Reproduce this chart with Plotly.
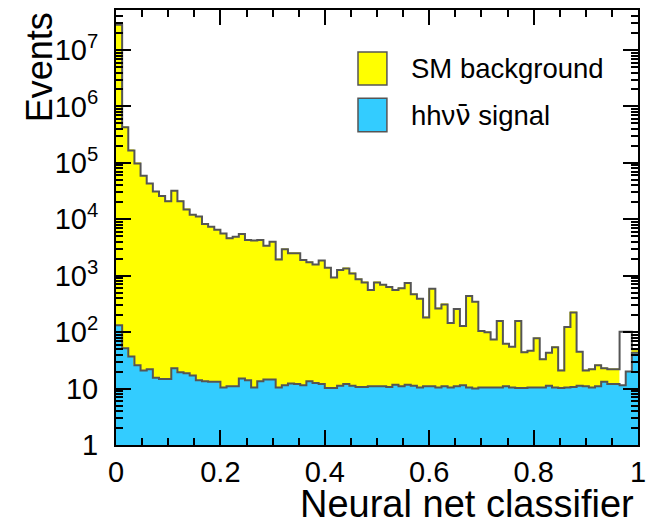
import numpy as np
import plotly.graph_objects as go

# ---- data ----
n_bins = 85
total_events = [
    2.8e7, 4.3e5, 1.66e5, 9.8e4, 5.9e4, 4.3e4, 3.1e4, 2.6e4, 2.1e4, 3.2e4,
    2.1e4, 1.5e4, 1.2e4, 1.12e4, 8300, 7400, 6500, 5600, 4600, 4900,
    5500, 4300, 4200, 4300, 3400, 4000, 1950, 2950, 2500, 2500,
    1900, 1740, 1580, 1860, 1380, 930, 1260, 1350, 1100, 870,
    760, 560, 760, 690, 630, 560, 600, 740, 470, 390,
    182, 590, 263, 310, 145, 257, 129, 437, 347, 105,
    100, 74, 158, 62, 55, 158, 44, 47, 78, 33,
    43, 54, 21, 123, 224, 45, 21, 22, 26, 23,
    22, 22, 102, 102, 50,
]
signal_events = [
    132, 52, 37, 26, 21, 22, 15.5, 14.8, 14.8, 23,
    19.5, 18.6, 17, 14.1, 13.5, 13.2, 13.2, 10.5, 11, 11,
    15.1, 14.1, 10.5, 13.5, 14.5, 14.5, 10.5, 11.5, 12.3, 12,
    11.5, 13.5, 12.6, 12, 10.2, 10.2, 11.2, 12, 11.2, 10.7,
    10.7, 11, 11, 11, 10.7, 11.7, 11, 11.7, 11.2, 10.5,
    11, 11, 10.5, 11, 10.5, 11, 11.5, 10.5, 10, 10.5,
    10.5, 10.5, 10.5, 11, 10.5, 10.2, 10.2, 10.5, 10.5, 10.5,
    11.2, 10.5, 10.2, 10.5, 10.7, 11.2, 11, 10.5, 11, 13.2,
    12, 12, 11.5, 20, 43,
]
background_events = [t - s for t, s in zip(total_events, signal_events)]

x_tick_vals = [0, 0.2, 0.4, 0.6, 0.8, 1.0]
x_tick_text = ["0", "0.2", "0.4", "0.6", "0.8", "1"]
y_tick_vals = [1, 10, 1e2, 1e3, 1e4, 1e5, 1e6, 1e7]
y_tick_text = ["1", "10", "10<sup>2</sup>", "10<sup>3</sup>", "10<sup>4</sup>",
               "10<sup>5</sup>", "10<sup>6</sup>", "10<sup>7</sup>"]

# ---- derived binning ----
edges = np.linspace(0.0, 1.0, n_bins + 1)
centers = 0.5 * (edges[:-1] + edges[1:])
width = 1.0 / n_bins

YELLOW = "#FFFF00"
BLUE = "#33CCFF"
LINE = "#555555"
FONT = "Liberation Sans, Arial, sans-serif"

bkg_colors = [YELLOW] * n_bins
bkg_colors[82] = "white"
bkg_colors[83] = "white"

fig = go.Figure()
fig.add_trace(go.Bar(x=centers, y=signal_events, width=width,
                     marker=dict(color=BLUE, line=dict(color=BLUE, width=0.6)),
                     showlegend=False))
fig.add_trace(go.Bar(x=centers, y=background_events, width=width,
                     marker=dict(color=bkg_colors, line=dict(color=bkg_colors, width=0.6)),
                     showlegend=False))
fig.add_trace(go.Scatter(x=edges, y=list(total_events) + [total_events[-1]],
                         mode="lines", line=dict(shape="hv", color=LINE, width=2),
                         showlegend=False, hoverinfo="skip"))
fig.add_trace(go.Scatter(x=edges, y=list(signal_events) + [signal_events[-1]],
                         mode="lines", line=dict(shape="hv", color=LINE, width=2),
                         showlegend=False, hoverinfo="skip"))

minor_y = [m * 10 ** k for k in range(0, 8) for m in range(2, 10)]

fig.update_layout(
    width=648, height=527,
    margin=dict(l=116, r=10, t=10, b=82, autoexpand=False),
    paper_bgcolor="white", plot_bgcolor="white",
    barmode="stack", bargap=0,
    font=dict(family=FONT, color="black"),
    xaxis=dict(
        range=[0, 1], showgrid=False, zeroline=False, automargin=False,
        showline=True, linecolor="black", linewidth=2, mirror="ticks",
        ticks="inside", ticklen=15, tickwidth=2, tickcolor="black",
        tickmode="array", tickvals=x_tick_vals, ticktext=x_tick_text,
        tickfont=dict(size=29, family=FONT),
        minor=dict(ticks="inside", ticklen=7, tickwidth=1.5, tickcolor="black",
                   dtick=0.05, showgrid=False),
    ),
    yaxis=dict(
        type="log", range=[0, 7.71], showgrid=False, zeroline=False, automargin=False,
        showline=True, linecolor="black", linewidth=2, mirror="ticks",
        ticks="inside", ticklen=15, tickwidth=2, tickcolor="black",
        tickmode="array", tickvals=y_tick_vals, ticktext=y_tick_text,
        tickfont=dict(size=29, family=FONT), ticklabelstandoff=10,
        minor=dict(ticks="inside", ticklen=7, tickwidth=1.5, tickcolor="black",
                   tickmode="array", tickvals=minor_y, showgrid=False),
    ),
)

# axis titles
fig.add_annotation(text="Neural net classifier", xref="paper", yref="paper",
                   x=0.997, y=-0.135, xanchor="right", yanchor="middle",
                   showarrow=False, font=dict(size=38, family=FONT))
fig.add_annotation(text="Events", xref="paper", yref="paper", textangle=-90,
                   x=-0.146, y=0.868, xanchor="center", yanchor="middle",
                   showarrow=False, font=dict(size=36, family=FONT))

# legend
fig.add_shape(type="rect", xref="paper", yref="paper",
              x0=0.4636, x1=0.519, y0=0.8276, y1=0.9034,
              fillcolor=YELLOW, line=dict(color=LINE, width=1.5))
fig.add_shape(type="rect", xref="paper", yref="paper",
              x0=0.4636, x1=0.519, y0=0.7202, y1=0.797,
              fillcolor=BLUE, line=dict(color=LINE, width=1.5))
fig.add_annotation(text="SM background", xref="paper", yref="paper",
                   x=0.5613, y=0.866, xanchor="left", yanchor="middle",
                   showarrow=False, font=dict(size=27.5, family=FONT))
fig.add_annotation(text="hhν<span style=\"font-family:'DejaVu Sans'\">ν\u0304</span> signal",
                   xref="paper", yref="paper",
                   x=0.5613, y=0.758, xanchor="left", yanchor="middle",
                   showarrow=False, font=dict(size=27.5, family=FONT))

fig.write_html("out.html")
